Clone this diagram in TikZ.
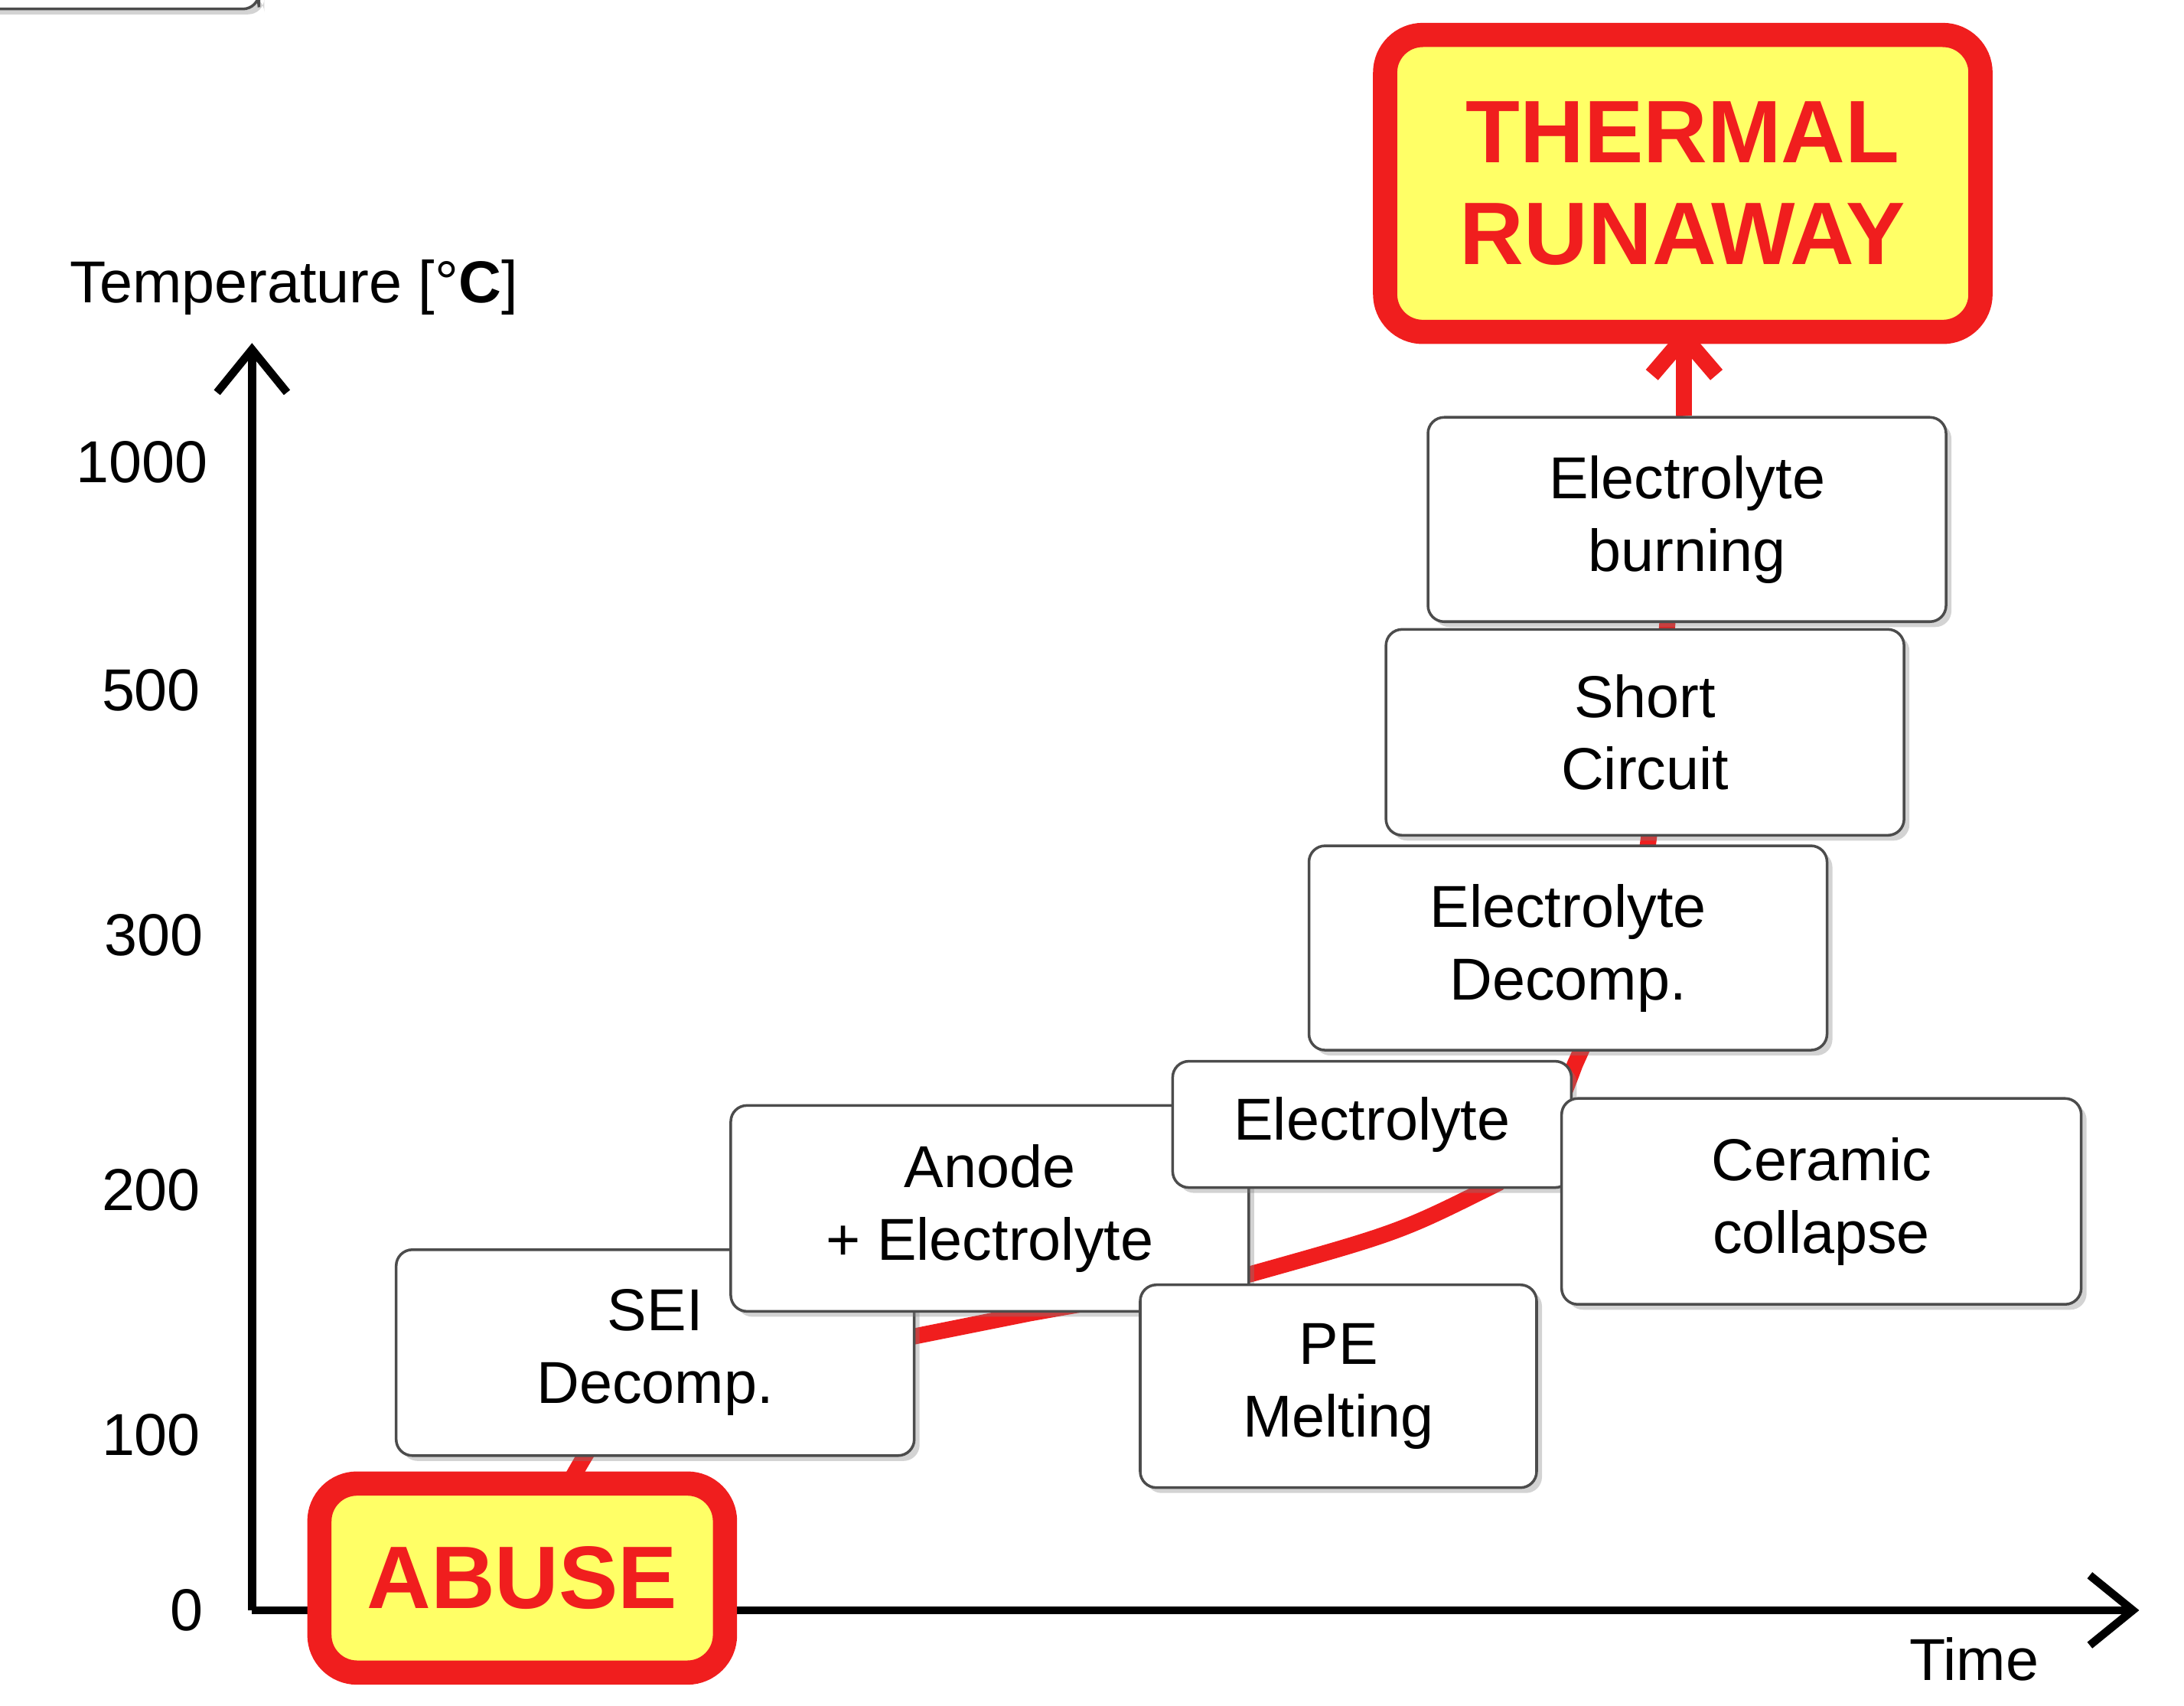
\documentclass[tikz,border=0pt]{standalone}
\usepackage{fontspec}
\setmainfont{Liberation Sans}
\usetikzlibrary{arrows.meta,shadows}
\definecolor{ry}{RGB}{255,255,102}
\definecolor{rr}{RGB}{240,30,30}
\begin{document}
\begin{tikzpicture}[x=0.018295cm,y=-0.018295cm,
  stage/.style={draw=black!70,line width=1pt,fill=white,rounded corners=6pt,align=center,font=\fontsize{22}{27}\selectfont,
     drop shadow={shadow xshift=2pt,shadow yshift=-2pt,opacity=0.35}},
  alarm/.style={draw=rr,line width=9pt,fill=ry,rounded corners=14pt,align=center,text=rr,font=\bfseries\fontsize{33}{40}\selectfont},
  lbl/.style={font=\fontsize{22}{27}\selectfont,anchor=east},
  ax/.style={line width=3pt,-{Straight Barb[length=16pt,width=26pt,line width=3pt]}}]
\useasboundingbox (0,0) rectangle (1560,1218);
% curve
\coordinate (c1) at (550,975);
\coordinate (c2) at (735,938);
\coordinate (c3) at (893,910);
\coordinate (c4) at (1070,845);
\coordinate (c5) at (1125,760);
\coordinate (c6) at (1180,580);
\coordinate (top) at (1203,297);
\coordinate (tip) at (1203,232);
\draw[rr,line width=6pt] (405,1062) .. controls (440,1000) .. (c1) -- (c2) -- (c3) .. controls (1000,880) .. (c4) .. controls (1110,800) .. (c5) .. controls (1170,660) .. (c6) -- (top);
\draw[rr,line width=6pt,-{Straight Barb[length=14pt,width=24pt,line width=6pt]}] (top) -- (tip);
% axes
\coordinate (o) at (180,1150);
\coordinate (ytip) at (180,245);
\coordinate (xtip) at (1528,1150);
\draw[ax] (o) -- (ytip);
\draw[ax] (o) -- (xtip);
\node[font=\fontsize{22}{27}\selectfont] (ylab) at (210,205) {Temperature [°\textbf{C}]};
\node[lbl] (t1000) at (155,330) {1000};
\node[lbl] (t500) at (150,493) {500};
\node[lbl] (t300) at (152,668) {300};
\node[lbl] (t200) at (150,850) {200};
\node[lbl] (t100) at (150,1025) {100};
\node[lbl] (t0) at (152,1150) {0};
\node[font=\fontsize{22}{27}\selectfont] (time) at (1410,1185) {Time};
% stages
\node[stage,minimum width=370\pgflinewidth/\pgflinewidth*0.018295cm] at (0,0) {};
\node[stage,minimum width=6.77cm,minimum height=2.69cm] (sei) at (468,966) {SEI\\Decomp.};
\node[stage,minimum width=6.77cm,minimum height=2.69cm] (anode) at (707,863) {Anode\\+ Electrolyte};
\node[stage,minimum width=5.18cm,minimum height=2.65cm] (pe) at (956,990) {PE\\Melting};
\node[stage,minimum width=5.21cm,minimum height=1.65cm] (elec) at (980,803) {Electrolyte};
\node[stage,minimum width=6.79cm,minimum height=2.69cm] (cer) at (1301,858) {Ceramic\\collapse};
\node[stage,minimum width=6.77cm,minimum height=2.67cm] (edec) at (1120,677) {Electrolyte\\Decomp.};
\node[stage,minimum width=6.77cm,minimum height=2.69cm] (sc) at (1175,523) {Short\\Circuit};
\node[stage,minimum width=6.77cm,minimum height=2.67cm] (eb) at (1205,371) {Electrolyte\\burning};
% alarms
\node[alarm,minimum width=5.3cm,minimum height=2.47cm] (abuse) at (373,1127) {ABUSE};
\node[alarm,minimum width=7.78cm,minimum height=3.88cm,font=\bfseries\fontsize{33}{38}\selectfont] (tr) at (1202,131) {THERMAL\\RUNAWAY};
\end{tikzpicture}
\end{document}
